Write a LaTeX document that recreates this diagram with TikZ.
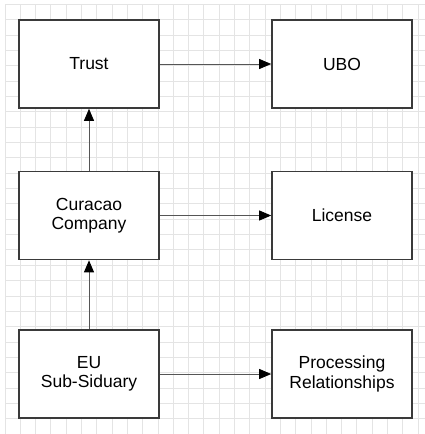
\documentclass[tikz,border=0pt]{standalone}
\usepackage{fontspec}
\setmainfont{Liberation Sans}
\usetikzlibrary{arrows.meta}
\definecolor{gridc}{HTML}{E4E4E4}
\definecolor{boxc}{HTML}{3A3A3A}
\definecolor{linec}{HTML}{555555}
\tikzset{
  box/.style={draw=boxc, line width=1.6pt, fill=white, minimum width=140pt, minimum height=88pt,
    inner sep=0pt, align=center, font=\fontsize{17.5}{19.5}\selectfont},
  conn/.style={draw=linec, line width=0.9pt, -{Triangle[length=12pt,width=10pt,color=black]}}
}
\begin{document}
\begin{tikzpicture}[x=1pt,y=-1pt]
\useasboundingbox (0,0) rectangle (425,434);
\fill[white] (0,0) rectangle (425,434);
% grid
\foreach \i in {0,...,27} {
  \draw[gridc, line width=0.9pt] ({5+15.3*\i},4) -- ({5+15.3*\i},434);
}
\foreach \j in {0,...,28} {
  \draw[gridc, line width=0.9pt] (5,{4.3+15.35*\j}) -- (425,{4.3+15.35*\j});
}
% boxes
\node[box] (trust) at (89,64) {Trust};
\node[box] (ubo) at (342,64) {UBO};
\node[box] (cur) at (89,215.5) {Curacao\\Company};
\node[box] (lic) at (342,215.5) {License};
\node[box] (eu) at (89,374) {EU\\Sub-Siduary};
\node[box] (proc) at (342,374) {Processing\\Relationships};
% connectors
\draw[conn] (trust.east) -- (ubo.west);
\draw[conn] (cur.east) -- (lic.west);
\draw[conn] (eu.east) -- (proc.west);
\draw[conn] (cur.north) -- (trust.south);
\draw[conn] (eu.north) -- (cur.south);
\end{tikzpicture}
\end{document}
